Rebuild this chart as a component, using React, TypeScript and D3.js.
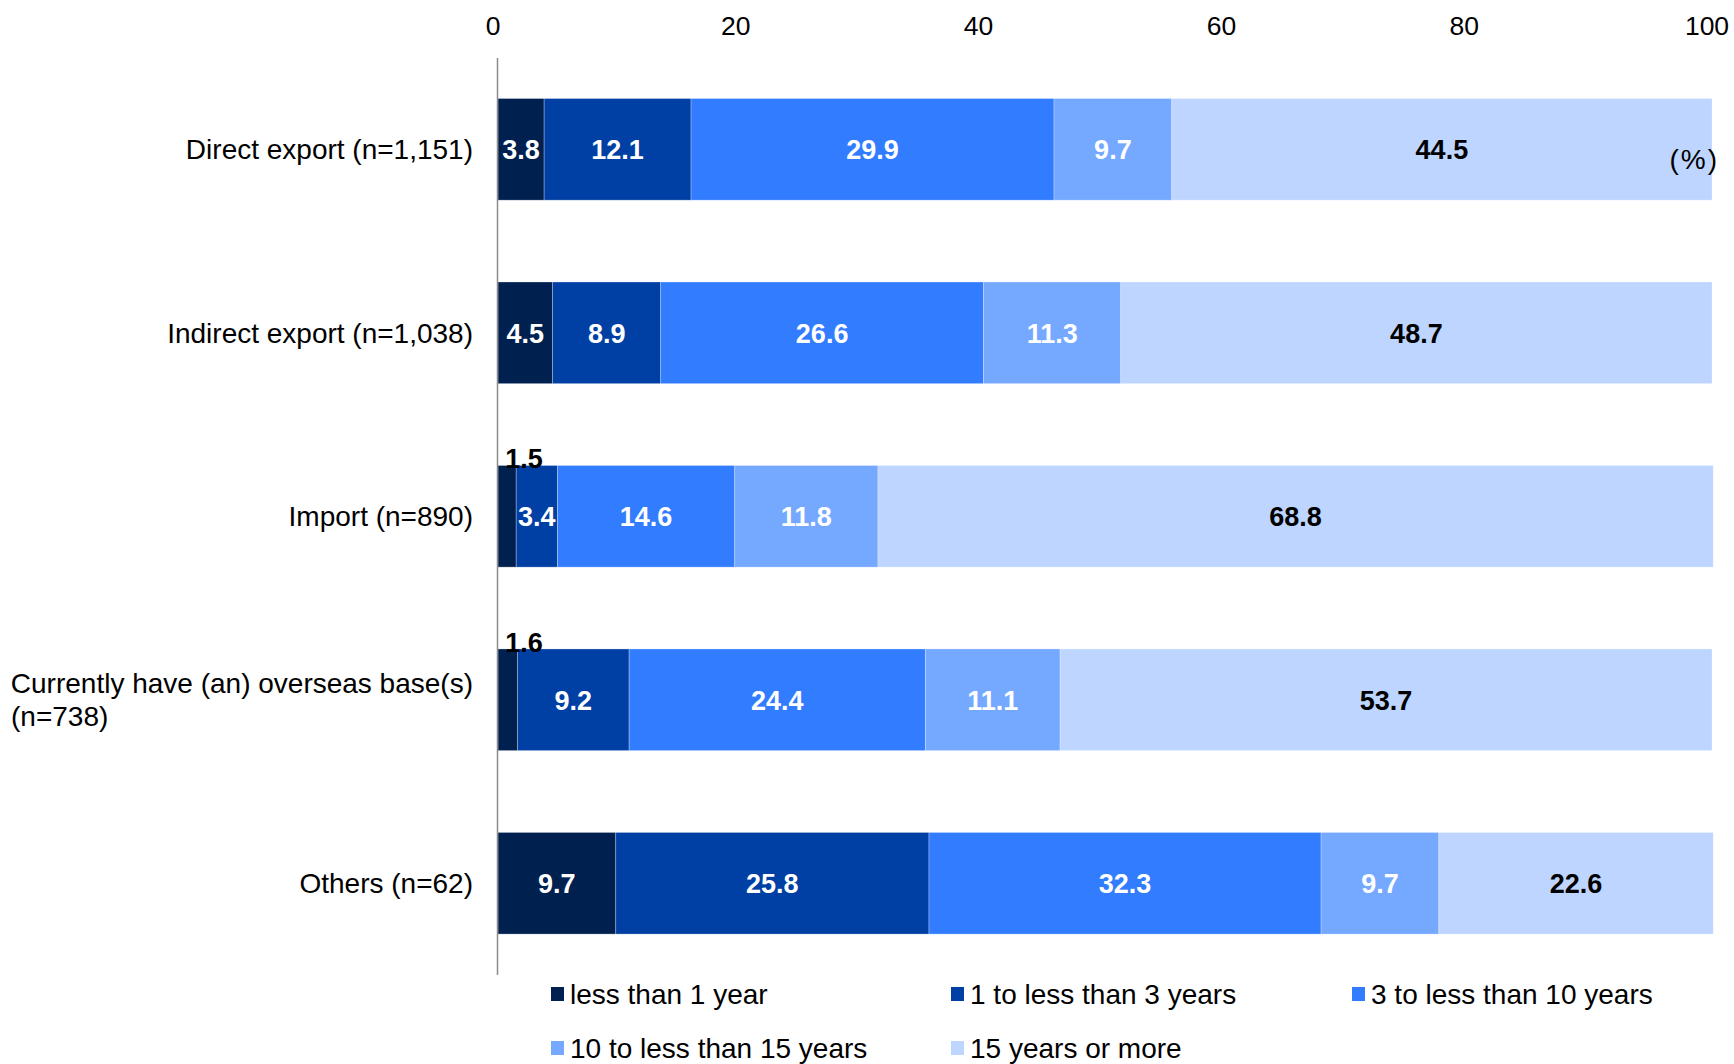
import React from "react";
import * as d3 from "d3";

const categories = [
  "Direct export (n=1,151)",
  "Indirect export (n=1,038)",
  "Import (n=890)",
  "Currently have (an) overseas base(s)|(n=738)",
  "Others (n=62)",
];
const seriesNames = [
  "less than 1 year",
  "1 to less than 3 years",
  "3 to less than 10 years",
  "10 to less than 15 years",
  "15 years or more",
];
const lessThan1 = [3.8, 4.5, 1.5, 1.6, 9.7];
const oneTo3 = [12.1, 8.9, 3.4, 9.2, 25.8];
const threeTo10 = [29.9, 26.6, 14.6, 24.4, 32.3];
const tenTo15 = [9.7, 11.3, 11.8, 11.1, 9.7];
const fifteenPlus = [44.5, 48.7, 68.8, 53.7, 22.6];
const xTicks = [0, 20, 40, 60, 80, 100];

const colors = ["#002050", "#003FA3", "#317CFF", "#75A8FF", "#BDD5FF"];
const textColors = ["#fff", "#fff", "#fff", "#fff", "#000"];

const W = 1734;
const H = 1064;
const FONT = "'Liberation Sans', Arial, sans-serif";

export default function App() {
  const series = [lessThan1, oneTo3, threeTo10, tenTo15, fifteenPlus];
  const x = d3.scaleLinear().domain([0, 100]).range([498, 1712]);
  const y = d3
    .scaleBand<string>()
    .domain(categories)
    .range([57.6, 975])
    .paddingInner(0.446)
    .paddingOuter(0.223);

  const rows = categories.map((c, i) => {
    const vals = series.map((s) => s[i]);
    let acc = 0;
    const segs = vals.map((v, k) => {
      const s0 = acc;
      acc += v;
      return { k, v, s0, s1: acc };
    });
    return { c, segs };
  });

  const legendCols = [551, 951, 1352];
  const legendRows = [994, 1048];

  return (
    <svg
      width={W}
      height={H}
      style={{ position: "absolute", left: 0, top: 0, background: "#fff" }}
      fontFamily={FONT}
    >
      <rect x={0} y={0} width={W} height={H} fill="#fff" />
      {xTicks.map((t) => (
        <text key={t} x={x(t) - 5} y={35} textAnchor="middle" fontSize={26.5} fill="#000">
          {t}
        </text>
      ))}
      {rows.map((r) => {
        const top = y(r.c)!;
        const bh = y.bandwidth();
        return (
          <g key={r.c}>
            {r.segs.map((s) => (
              <rect
                key={s.k}
                x={x(s.s0)}
                y={top}
                width={x(s.s1) - x(s.s0)}
                height={bh}
                fill={colors[s.k]}
                stroke="rgba(255,255,255,0.35)"
                strokeWidth={0.8}
              />
            ))}
            {r.segs.map((s) => {
              const small = s.v < 2;
              if (small) {
                return (
                  <text
                    key={"t" + s.k}
                    x={x(0) + 26}
                    y={top + 3}
                    textAnchor="middle"
                    fontSize={27}
                    fontWeight="bold"
                    fill="#000"
                  >
                    {s.v.toFixed(1)}
                  </text>
                );
              }
              return (
                <text
                  key={"t" + s.k}
                  x={(x(s.s0) + x(s.s1)) / 2}
                  y={top + bh / 2 + 10}
                  textAnchor="middle"
                  fontSize={27}
                  fontWeight="bold"
                  fill={textColors[s.k]}
                >
                  {s.v.toFixed(1)}
                </text>
              );
            })}
            {r.c.includes("|") ? (
              <g>
                <text x={473} y={top + bh / 2 - 7} textAnchor="end" fontSize={28} fill="#000">
                  {r.c.split("|")[0]}
                </text>
                <text x={11} y={top + bh / 2 + 26} textAnchor="start" fontSize={28} fill="#000">
                  {r.c.split("|")[1]}
                </text>
              </g>
            ) : (
              <text x={473} y={top + bh / 2 + 10} textAnchor="end" fontSize={28} fill="#000">
                {r.c}
              </text>
            )}
          </g>
        );
      })}
      <line x1={497.5} x2={497.5} y1={58} y2={975} stroke="#8c8c8c" strokeWidth={1.5} />
      <text x={1719} y={169} textAnchor="end" fontSize={28} letterSpacing={2} fill="#000">
        (%)
      </text>
      {seriesNames.map((n, i) => {
        const col = legendCols[i % 3];
        const row = legendRows[Math.floor(i / 3)];
        return (
          <g key={n}>
            <rect x={col} y={row - 7} width={13} height={14} fill={colors[i]} />
            <text x={col + 19} y={row + 10} fontSize={28} fill="#000">
              {n}
            </text>
          </g>
        );
      })}
    </svg>
  );
}
